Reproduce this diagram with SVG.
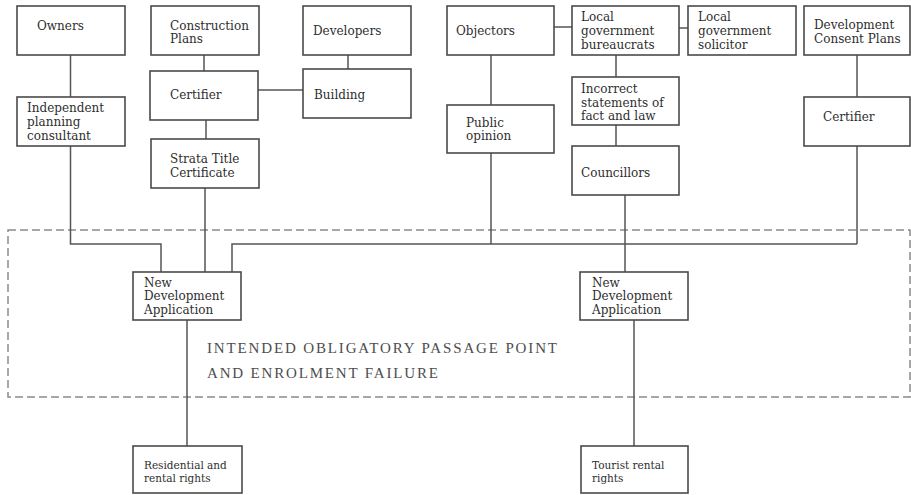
<svg xmlns="http://www.w3.org/2000/svg" width="911" height="495" viewBox="0 0 911 495">
<style>
.box{fill:#fff;stroke:#4a4a4a;stroke-width:1.6}
.t{font-family:"DejaVu Serif","Liberation Serif",serif;font-size:12px;fill:#2e2e2e}
.s{font-size:10.5px}
.c{fill:none;stroke:#555;stroke-width:1.5}
.frame{fill:none;stroke:#8a8a8a;stroke-width:1.5;stroke-dasharray:8 4}
.big{font-family:"Liberation Serif",serif;font-size:15px;fill:#4d4d4d}
</style>
<rect width="911" height="495" fill="#fff"/>
<rect id="opp-frame" class="frame" x="8" y="230" width="902" height="167"/>
<text class="big" x="207" y="353" textLength="350" lengthAdjust="spacing">INTENDED OBLIGATORY PASSAGE POINT</text>
<text class="big" x="207" y="378" textLength="231" lengthAdjust="spacing">AND ENROLMENT FAILURE</text>
<g id="connectors">
<path class="c" d="M70.5 55V97"/>
<path class="c" d="M70.5 146V244H161V272"/>
<path class="c" d="M204 55V71"/>
<path class="c" d="M258 90H303"/>
<path class="c" d="M348 55V69"/>
<path class="c" d="M206 120V139"/>
<path class="c" d="M205 188V272"/>
<path class="c" d="M554 27H572"/>
<path class="c" d="M491 55V105"/>
<path class="c" d="M491 153V244"/>
<path class="c" d="M679 28H688"/>
<path class="c" d="M616 55V77"/>
<path class="c" d="M616 125V146"/>
<path class="c" d="M625 195V272"/>
<path class="c" d="M857 55V97"/>
<path class="c" d="M857 146V244"/>
<path class="c" d="M232 272V244H857"/>
<path class="c" d="M187 320V446"/>
<path class="c" d="M634 320V446"/>
</g>
<g id="owners"><rect class="box" x="17" y="6" width="108" height="49"/><text class="t" x="37" y="30">Owners</text></g>
<g id="construction-plans"><rect class="box" x="151" y="6" width="108" height="49"/><text class="t" x="170" y="30">Construction</text><text class="t" x="170" y="43">Plans</text></g>
<g id="developers"><rect class="box" x="303" y="6" width="108" height="49"/><text class="t" x="313" y="35">Developers</text></g>
<g id="objectors"><rect class="box" x="447" y="6" width="107" height="49"/><text class="t" x="456" y="35">Objectors</text></g>
<g id="lg-bureaucrats"><rect class="box" x="572" y="6" width="107" height="49"/><text class="t" x="581" y="21">Local</text><text class="t" x="581" y="35">government</text><text class="t" x="581" y="49">bureaucrats</text></g>
<g id="lg-solicitor"><rect class="box" x="688" y="6" width="108" height="49"/><text class="t" x="698" y="21">Local</text><text class="t" x="698" y="35">government</text><text class="t" x="698" y="49">solicitor</text></g>
<g id="dev-consent-plans"><rect class="box" x="804" y="6" width="106" height="49"/><text class="t" x="814" y="29">Development</text><text class="t" x="814" y="43">Consent Plans</text></g>
<g id="independent-consultant"><rect class="box" x="17" y="97" width="108" height="49"/><text class="t" x="27" y="112">Independent</text><text class="t" x="27" y="126">planning</text><text class="t" x="27" y="140">consultant</text></g>
<g id="certifier-left"><rect class="box" x="150" y="71" width="108" height="49"/><text class="t" x="170" y="99">Certifier</text></g>
<g id="building"><rect class="box" x="303" y="69" width="108" height="49"/><text class="t" x="314" y="99">Building</text></g>
<g id="strata-title"><rect class="box" x="151" y="139" width="108" height="49"/><text class="t" x="170" y="163">Strata Title</text><text class="t" x="170" y="177">Certificate</text></g>
<g id="public-opinion"><rect class="box" x="447" y="105" width="107" height="48"/><text class="t" x="466" y="127">Public</text><text class="t" x="466" y="140">opinion</text></g>
<g id="incorrect-statements"><rect class="box" x="572" y="77" width="107" height="48"/><text class="t" x="581" y="93">Incorrect</text><text class="t" x="581" y="107">statements of</text><text class="t" x="581" y="120">fact and law</text></g>
<g id="councillors"><rect class="box" x="572" y="146" width="107" height="49"/><text class="t" x="581" y="177">Councillors</text></g>
<g id="certifier-right"><rect class="box" x="804" y="97" width="106" height="49"/><text class="t" x="823" y="121">Certifier</text></g>
<g id="new-dev-left"><rect class="box" x="133" y="272" width="108" height="48"/><text class="t" x="144" y="287">New</text><text class="t" x="144" y="300">Development</text><text class="t" x="144" y="314">Application</text></g>
<g id="new-dev-right"><rect class="box" x="580" y="272" width="108" height="48"/><text class="t" x="592" y="287">New</text><text class="t" x="592" y="300">Development</text><text class="t" x="592" y="314">Application</text></g>
<g id="residential-rights"><rect class="box" x="133" y="446" width="109" height="47"/><text class="t s" x="144" y="469">Residential and</text><text class="t s" x="144" y="482">rental rights</text></g>
<g id="tourist-rights"><rect class="box" x="581" y="446" width="107" height="47"/><text class="t s" x="592" y="469">Tourist rental</text><text class="t s" x="592" y="482">rights</text></g>
</svg>
